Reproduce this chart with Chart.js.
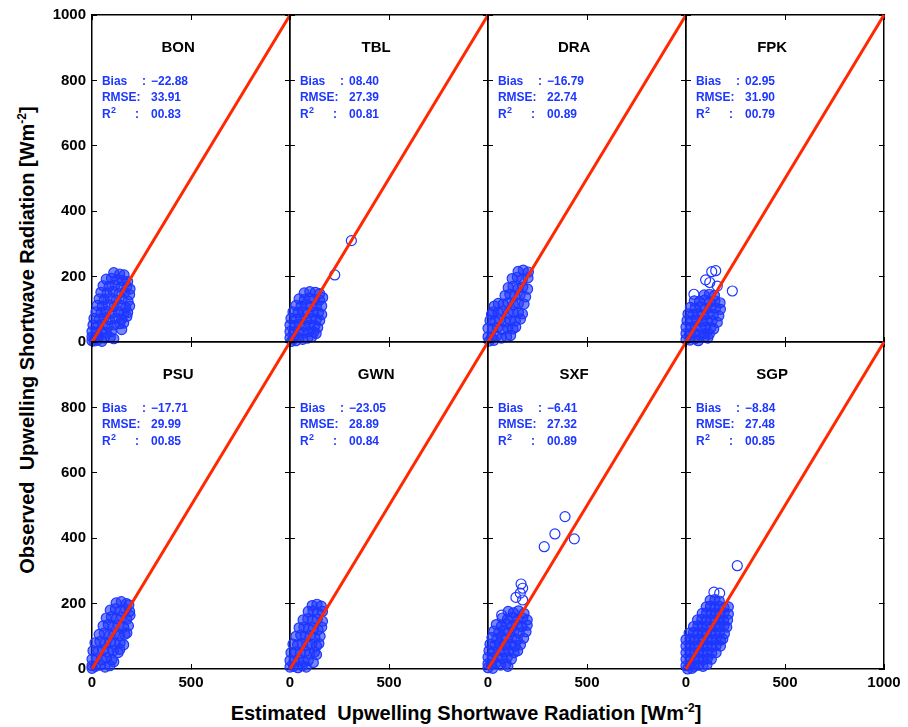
<!DOCTYPE html>
<html>
<head>
<meta charset="utf-8">
<title>Observed vs estimated upwelling shortwave radiation</title>
<script src="https://cdn.jsdelivr.net/npm/chart.js@4.4.0/dist/chart.umd.min.js"></script>
<style>
  body { margin: 0; background: #fff; width: 908px; height: 727px; position: relative; overflow: hidden;
         font-family: "Liberation Sans", Arial, Helvetica, sans-serif; }
  canvas { position: absolute; }
  .axis-title { position: absolute; font-weight: bold; font-size: 20px; line-height: 22px; color: #000; white-space: nowrap; }
  .axis-title sup { font-size: 12px; line-height: 0; }
  #xTitle { left: 466px; top: 702px; transform: translateX(-50%); }
  #yTitle { left: 27px; top: 340px; transform: translate(-50%, -50%) rotate(-90deg); }
</style>
</head>
<body>
<div id="xTitle" class="axis-title">Estimated&nbsp; Upwelling Shortwave Radiation [Wm<sup>-2</sup>]</div>
<div id="yTitle" class="axis-title">Observed&nbsp; Upwelling Shortwave Radiation [Wm<sup>-2</sup>]</div>
<script>
// station names and statistics, panel order left->right, top->bottom
const stations = ['BON', 'TBL', 'DRA', 'FPK', 'PSU', 'GWN', 'SXF', 'SGP'];
const biasText = ['\u221222.88', '08.40', '\u221216.79', '02.95', '\u221217.71', '\u221223.05', '\u22126.41', '\u22128.84'];
const rmseText = ['33.91', '27.39', '22.74', '31.90', '29.99', '28.89', '27.32', '27.48'];
const r2Text = ['00.83', '00.81', '00.89', '00.79', '00.85', '00.84', '00.89', '00.85'];

// 1:1 reference line end points
const oneToOne = [0, 1000];

// dense part of each scatter cloud [estimated, observed]
const bonPoints = [
  [110,212],[140,208],[162,205],
  [72,192],[98,195],[126,190],[154,188],[180,185],
  [56,172],[86,170],[116,174],[146,168],[176,170],[192,162],
  [45,152],[76,150],[106,155],[136,148],[166,152],[190,145],
  [36,132],[62,130],[92,134],[122,128],[152,132],[182,125],
  [26,112],[52,110],[82,114],[112,108],[142,112],[170,106],[190,110],
  [20,92],[46,90],[72,94],[102,88],[132,92],[160,86],[180,90],
  [10,72],[36,70],[62,74],[88,68],[118,72],[150,70],[176,78],
  [5,52],[30,50],[56,54],[82,48],[112,52],[140,56],[160,58],
  [0,32],[20,30],[46,34],[72,28],[98,32],[150,38],
  [0,16],[16,14],[36,18],[62,12],[92,14],[110,10],
  [0,4],[12,3],[28,6],[50,2]
];
const tblPoints = [
  [72,150],[100,154],[128,152],[150,148],
  [46,132],[72,130],[98,134],[124,130],[150,128],[165,136],
  [30,112],[56,110],[82,114],[108,108],[134,112],[160,110],
  [15,92],[40,90],[66,94],[92,88],[118,92],[144,90],[160,84],
  [5,72],[30,70],[56,74],[82,68],[108,72],[134,70],[150,66],
  [0,52],[22,50],[48,54],[74,48],[100,52],[126,50],[140,44],
  [0,32],[18,30],[42,34],[68,28],[94,32],[120,30],[132,26],
  [0,12],[16,10],[40,14],[64,8],[90,12],[110,16],
  [8,2],[30,4]
];
const draPoints = [
  [152,216],[178,220],[204,214],
  [122,194],[148,198],[174,192],[202,196],
  [102,166],[126,170],[152,164],[176,168],[200,162],
  [86,142],[110,146],[136,140],[162,144],[190,138],
  [52,118],[76,116],[102,120],[128,114],[154,118],[182,116],
  [32,110],[18,85],
  [26,92],[50,90],[76,94],[102,88],[128,92],[154,90],[174,86],
  [10,66],[34,64],[60,68],[86,62],[112,66],[138,64],[164,70],
  [0,42],[22,40],[48,44],[74,38],[100,42],[126,40],[140,46],
  [0,16],[18,14],[42,18],[68,12],[94,16],[114,20],
  [6,3],[30,5]
];
const fpkPoints = [
  [92,144],[118,146],[144,142],
  [42,126],[68,124],[94,128],[120,122],[146,126],[172,120],
  [22,106],[46,104],[72,108],[98,102],[124,106],[150,104],[174,100],
  [10,86],[34,84],[60,88],[86,82],[112,86],[138,84],[166,80],
  [5,66],[28,64],[54,68],[80,62],[106,66],[132,64],[158,60],
  [0,46],[22,44],[48,48],[74,42],[100,46],[126,44],[140,40],
  [0,26],[18,24],[42,28],[68,22],[94,26],[118,24],
  [0,8],[20,6],[44,10],[62,4],[95,15],[110,12]
];
const psuPoints = [
  [122,202],[148,206],[174,200],[186,196],
  [92,180],[118,184],[144,178],[170,182],[190,176],
  [72,156],[98,160],[124,154],[150,158],[176,152],[192,164],
  [56,132],[82,136],[108,130],[134,134],[160,128],[184,132],
  [36,106],[62,110],[88,104],[114,108],[140,102],[166,106],[176,110],
  [15,80],[40,84],[66,78],[92,82],[118,76],[142,80],[160,74],
  [5,56],[30,54],[56,58],[82,52],[108,56],[132,50],[140,60],
  [0,30],[22,32],[48,28],[74,34],[100,28],[110,22],
  [0,10],[18,8],[42,12],[66,6],[90,10],
  [0,2]
];
const gwnPoints = [
  [112,194],[136,198],[158,192],
  [92,176],[116,178],[140,172],[164,176],
  [66,150],[90,154],[114,148],[138,152],[164,146],
  [46,126],[70,128],[94,122],[118,126],[142,120],[160,128],
  [30,100],[54,104],[78,98],[102,102],[126,96],[152,100],
  [15,76],[38,74],[62,78],[86,72],[110,76],[134,70],[146,78],
  [5,50],[28,52],[52,48],[76,54],[100,48],[124,52],[134,44],
  [0,26],[20,24],[44,28],[68,22],[92,26],[118,20],
  [0,6],[18,8],[40,4],[62,10],[82,6]
];
const sxfPoints = [
  [102,176],[128,172],[154,178],[182,170],
  [72,156],[98,152],[124,158],[150,152],[176,156],[198,150],
  [42,136],[68,132],[94,138],[120,132],[146,136],[172,130],[198,134],
  [30,116],[54,112],[80,118],[106,112],[132,116],[158,110],[192,114],
  [20,96],[44,92],[70,98],[96,92],[122,96],[148,90],[180,94],
  [10,76],[34,72],[60,78],[86,72],[112,76],[138,70],[164,74],
  [5,56],[28,52],[54,58],[80,52],[106,56],[132,50],[150,56],
  [0,36],[20,34],[46,38],[72,32],[98,36],[118,30],
  [0,16],[16,14],[40,18],[64,12],[90,16],[100,8],
  [0,4],[24,2]
];
const sgpPoints = [
  [122,210],[146,212],[168,208],
  [102,190],[124,192],[146,188],[168,192],[192,188],[214,190],
  [82,170],[104,172],[126,168],[148,172],[170,168],[192,172],[214,168],
  [58,150],[80,152],[102,148],[124,152],[146,148],[168,152],[190,148],[210,150],
  [38,130],[60,132],[82,128],[104,132],[126,128],[148,132],[170,128],[192,132],[206,128],
  [16,110],[38,112],[60,108],[82,112],[104,108],[126,112],[148,108],[170,112],[194,108],
  [0,90],[20,92],[42,88],[64,92],[86,88],[108,92],[130,88],[152,92],[174,88],[186,92],
  [0,70],[20,72],[42,68],[64,72],[86,68],[108,72],[130,68],[152,72],[174,70],
  [0,50],[20,52],[42,48],[64,52],[86,48],[108,52],[130,48],[152,50],
  [0,30],[20,32],[42,28],[64,32],[86,28],[108,32],[128,30],
  [0,10],[20,12],[42,8],[64,12],[86,8],[106,14],
  [8,0],[30,2]
];

// isolated points away from each cloud (drawn hollow)
const bonOutliers = [];
const tblOutliers = [[310,310],[226,205]];
const draOutliers = [];
const fpkOutliers = [[130,215],[150,218],[99,190],[120,182],[158,171],[234,156],[40,146]];
const psuOutliers = [];
const gwnOutliers = [];
const sxfOutliers = [[389,466],[338,413],[284,374],[436,398],[167,260],[175,247],[163,232],[141,219],[175,211],[69,165]];
const sgpOutliers = [[259,316],[141,235],[170,232]];

const panelPoints = [bonPoints, tblPoints, draPoints, fpkPoints, psuPoints, gwnPoints, sxfPoints, sgpPoints];
const panelOutliers = [bonOutliers, tblOutliers, draOutliers, fpkOutliers, psuOutliers, gwnOutliers, sxfOutliers, sgpOutliers];

// layout of the 2x4 grid (pixels)
const panelLefts = [92, 290, 488, 686];
const panelTops = [15, 342];
const panelW = 198, panelH = 327;
const yAxisW = 60, xAxisH = 30, padTop = 8, padRight = 22;

const FONT = '"Liberation Sans", Arial, Helvetica, sans-serif';
const BLUE = 'rgb(30,55,255)';
const RED = 'rgb(255,40,0)';

// draws station name and the statistics block inside each panel
const statsText = {
  id: 'statsText',
  afterDatasetsDraw(chart, args, opts) {
    const i = opts.index;
    const ctx = chart.ctx;
    const x = chart.scales.x, y = chart.scales.y;
    ctx.save();
    ctx.fillStyle = '#000';
    ctx.font = 'bold 15px ' + FONT;
    ctx.textAlign = 'center';
    ctx.textBaseline = 'middle';
    ctx.fillText(stations[i], x.getPixelForValue(435), y.getPixelForValue(898));

    ctx.fillStyle = BLUE;
    ctx.font = 'bold 12px ' + FONT;
    ctx.textAlign = 'left';
    ctx.textBaseline = 'alphabetic';
    const lx = x.getPixelForValue(50);
    const vx = x.getPixelForValue(298);
    const rows = [786, 737, 685].map(v => y.getPixelForValue(v));
    ctx.fillText('Bias', lx, rows[0]);
    ctx.fillText(':', x.getPixelForValue(252), rows[0]);
    ctx.fillText(biasText[i], vx, rows[0]);
    ctx.fillText('RMSE:', lx, rows[1]);
    ctx.fillText(rmseText[i], vx, rows[1]);
    ctx.fillText('R', lx, rows[2]);
    const rw = ctx.measureText('R').width;
    ctx.fillText(':', x.getPixelForValue(217), rows[2]);
    ctx.fillText(r2Text[i], vx, rows[2]);
    ctx.font = 'bold 9px ' + FONT;
    ctx.fillText('2', lx + rw + 0.5, rows[2] - 5.5);
    ctx.restore();
  }
};

// keep every axis at a fixed size so all plot areas line up
function fixSize(prop, size) {
  return s => {
    s[prop] = size;
    s.paddingTop = 0;
    s.paddingBottom = 0;
    s.paddingLeft = 0;
    s.paddingRight = 0;
  };
}

function makePanel(i) {
  const row = Math.floor(i / 4), col = i % 4;
  const canvas = document.createElement('canvas');
  canvas.width = yAxisW + panelW + padRight;
  canvas.height = padTop + panelH + xAxisH;
  canvas.style.left = (panelLefts[col] - yAxisW) + 'px';
  canvas.style.top = (panelTops[row] - padTop) + 'px';
  document.body.appendChild(canvas);

  const tickFont = { size: 15, weight: 'bold', family: FONT };
  const inwardGrid = { drawOnChartArea: false, drawTicks: true, tickLength: -5, color: '#000', lineWidth: 1 };
  const frame = { display: true, color: '#000', width: 1.5 };

  return new Chart(canvas, {
    type: 'scatter',
    data: {
      datasets: [
        {
          type: 'line',
          data: oneToOne.map(v => ({ x: v, y: v })),
          borderColor: RED,
          borderWidth: 3,
          pointRadius: 0,
          clip: false,
          order: 0
        },
        {
          type: 'scatter',
          data: panelPoints[i].map(p => ({ x: p[0], y: p[1] })),
          pointStyle: 'circle',
          pointRadius: 5,
          pointHoverRadius: 5,
          borderWidth: 1.2,
          borderColor: BLUE,
          backgroundColor: 'rgba(30,55,255,0.6)',
          clip: false,
          order: 1
        },
        {
          type: 'scatter',
          data: panelOutliers[i].map(p => ({ x: p[0], y: p[1] })),
          pointStyle: 'circle',
          pointRadius: 5,
          pointHoverRadius: 5,
          borderWidth: 1.2,
          borderColor: BLUE,
          backgroundColor: 'rgba(0,0,0,0)',
          clip: false,
          order: 2
        }
      ]
    },
    options: {
      responsive: false,
      animation: false,
      devicePixelRatio: 1,
      events: [],
      layout: { padding: { top: padTop, right: padRight, left: 0, bottom: 0 } },
      plugins: {
        legend: { display: false },
        tooltip: { enabled: false },
        statsText: { index: i }
      },
      scales: {
        x: {
          type: 'linear', position: 'bottom', min: 0, max: 1000,
          ticks: {
            display: row === 1, stepSize: 500, padding: 10, color: '#000', font: tickFont,
            maxRotation: 0, autoSkip: false,
            callback: v => (v === 1000 && col !== 3) ? '' : v
          },
          grid: inwardGrid,
          border: frame,
          afterFit: fixSize('height', xAxisH)
        },
        y: {
          type: 'linear', position: 'left', min: 0, max: 1000,
          ticks: {
            display: col === 0, stepSize: 200, padding: 11, color: '#000', font: tickFont,
            autoSkip: false,
            callback: v => (v === 1000 && row === 1) ? '' : v
          },
          grid: inwardGrid,
          border: frame,
          afterFit: fixSize('width', yAxisW)
        },
        x2: {
          type: 'linear', position: 'top', min: 0, max: 1000,
          ticks: { display: false, stepSize: 500 },
          grid: inwardGrid,
          border: frame,
          afterFit: fixSize('height', 0)
        },
        y2: {
          type: 'linear', position: 'right', min: 0, max: 1000,
          ticks: { display: false, stepSize: 200 },
          grid: inwardGrid,
          border: frame,
          afterFit: fixSize('width', 0)
        }
      }
    },
    plugins: [statsText]
  });
}

for (let i = 0; i < stations.length; i++) {
  makePanel(i);
}
</script>
</body>
</html>
